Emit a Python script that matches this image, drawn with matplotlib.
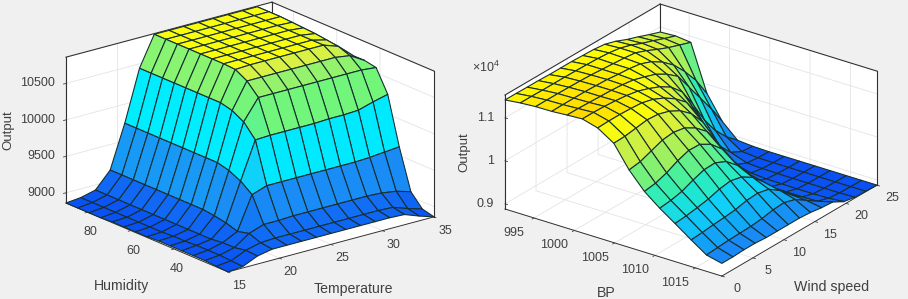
import numpy as np
import matplotlib
matplotlib.use("Agg")
import matplotlib.pyplot as plt
from matplotlib.colors import LinearSegmentedColormap, Normalize
from matplotlib.transforms import Affine2D
from mpl_toolkits.mplot3d import proj3d

plt.rcParams['font.family'] = ['Liberation Sans', 'DejaVu Sans']
plt.rcParams['mathtext.fontset'] = 'custom'
plt.rcParams['mathtext.rm'] = 'Liberation Sans'
plt.rcParams['mathtext.default'] = 'regular'

W, H = 908, 299
BG = '#f0f0f0'

# ---- data: left panel (rows: humidity low->high; columns: temperature 15->35)
temperature = [15, 16.43, 17.86, 19.29, 20.71, 22.14, 23.57, 25, 26.43, 27.86, 29.29, 30.71, 32.14, 33.57, 35]
humidity = [15, 20.4, 25.7, 31.1, 36.4, 41.8, 47.1, 52.5, 57.9, 63.2, 68.6, 73.9, 79.3, 84.6, 90]
output_left = [
    [8860, 8880, 8970, 9010, 9010, 9010, 9010, 9010, 9010, 9010, 9010, 9010, 9000, 8925, 8860],
    [8870, 8890, 8980, 9030, 9040, 9040, 9040, 9040, 9040, 9040, 9040, 9040, 9030, 8960, 8900],
    [8880, 8900, 8950, 9090, 9160, 9160, 9170, 9170, 9170, 9170, 9170, 9170, 9160, 9130, 9070],
    [8880, 8900, 8950, 9050, 9500, 9570, 9570, 9570, 9570, 9570, 9570, 9570, 9580, 9600, 9620],
    [8880, 8900, 8930, 9100, 9620, 10130, 10140, 10140, 10140, 10140, 10150, 10150, 10160, 10220, 10270],
    [8880, 8890, 8930, 9130, 9700, 10310, 10590, 10590, 10590, 10590, 10590, 10590, 10590, 10590, 10570],
    [8880, 8890, 8930, 9150, 9740, 10400, 10750, 10750, 10750, 10750, 10750, 10750, 10750, 10720, 10600],
    [8870, 8880, 8930, 9150, 9740, 10440, 10840, 10850, 10850, 10850, 10850, 10850, 10850, 10780, 10600],
    [8870, 8880, 8930, 9150, 9740, 10440, 10850, 10850, 10850, 10850, 10850, 10850, 10850, 10800, 10600],
    [8870, 8880, 8930, 9150, 9740, 10440, 10850, 10850, 10850, 10850, 10850, 10850, 10850, 10820, 10600],
    [8870, 8880, 8930, 9150, 9740, 10440, 10850, 10850, 10850, 10850, 10850, 10850, 10850, 10830, 10600],
    [8860, 8880, 8930, 9150, 9740, 10440, 10850, 10850, 10850, 10850, 10850, 10850, 10850, 10840, 10600],
    [8860, 8880, 8930, 9150, 9740, 10440, 10850, 10850, 10850, 10850, 10850, 10850, 10850, 10850, 10600],
    [8860, 8880, 8930, 9150, 9740, 10440, 10850, 10850, 10850, 10850, 10850, 10850, 10850, 10850, 10600],
    [8860, 8880, 8930, 9150, 9740, 10440, 10850, 10850, 10850, 10850, 10850, 10850, 10850, 10850, 10600],
]
temp_ticks = [15, 20, 25, 30, 35]
hum_ticks = [40, 60, 80]
left_z_ticks = [9000, 9500, 10000, 10500]
left_z_labels = ['9000', '9500', '10000', '10500']

# ---- data: right panel (rows: BP low->high; columns: wind speed 0->25)
bp = [991.4, 993.3, 995.2, 997.2, 999.1, 1001.0, 1002.9, 1004.9, 1006.8, 1008.7, 1010.6, 1012.5, 1014.5, 1016.4, 1018.3]
wind = [0, 1.79, 3.57, 5.36, 7.14, 8.93, 10.71, 12.5, 14.29, 16.07, 17.86, 19.64, 21.43, 23.21, 25]
output_right = [
    [11415, 11415, 11410, 11410, 11400, 11400, 11400, 11390, 11380, 11350, 11270, 11160, 11070, 10970, 10880],
    [11455, 11455, 11450, 11450, 11450, 11445, 11440, 11430, 11410, 11370, 11290, 11180, 11090, 10990, 10900],
    [11480, 11480, 11480, 11475, 11470, 11460, 11440, 11420, 11400, 11370, 11270, 11150, 11040, 10950, 10860],
    [11485, 11490, 11490, 11490, 11480, 11470, 11440, 11420, 11380, 11280, 11120, 10900, 10600, 10250, 9790],
    [11510, 11510, 11500, 11490, 11480, 11460, 11420, 11340, 11250, 11100, 10900, 10500, 10100, 9700, 9250],
    [11530, 11530, 11520, 11500, 11470, 11420, 11330, 11220, 11060, 10800, 10350, 9850, 9450, 9150, 8920],
    [11430, 11440, 11440, 11430, 11410, 11340, 11220, 11050, 10820, 10400, 9800, 9350, 9050, 8920, 8890],
    [11190, 11200, 11240, 11280, 11260, 11180, 11040, 10820, 10480, 9950, 9350, 9030, 8920, 8890, 8880],
    [10680, 10720, 10820, 10920, 10950, 10900, 10750, 10520, 10100, 9500, 9100, 8950, 8900, 8885, 8880],
    [10290, 10330, 10420, 10550, 10640, 10630, 10480, 10220, 9800, 9300, 9030, 8920, 8895, 8885, 8880],
    [10010, 10040, 10100, 10210, 10300, 10310, 10190, 9950, 9600, 9230, 9000, 8915, 8890, 8885, 8880],
    [9765, 9790, 9830, 9880, 9960, 10000, 9940, 9780, 9520, 9210, 8990, 8910, 8890, 8885, 8880],
    [9500, 9520, 9550, 9570, 9600, 9660, 9680, 9620, 9440, 9190, 8990, 8910, 8890, 8885, 8880],
    [9260, 9280, 9300, 9310, 9320, 9350, 9400, 9420, 9340, 9170, 9000, 8920, 8890, 8885, 8880],
    [9175, 9175, 9190, 9190, 9170, 9170, 9170, 9170, 9150, 9110, 9090, 8950, 8900, 8890, 8880],
]
bp_ticks = [995, 1000, 1005, 1010, 1015]
wind_ticks = [0, 5, 10, 15, 20, 25]
right_z_ticks = [9000, 10000, 11000]
right_z_labels = ['0.9', '1', '1.1']

cmap_left = LinearSegmentedColormap.from_list('left', [
    (0.0, '#0a50f5'), (0.09, '#1068f5'), (0.27, '#1a90f5'), (0.42, '#0fd0fa'), (0.47, '#00e8ff'),
    (0.63, '#00ecff'), (0.73, '#70f57a'), (0.88, '#78f578'), (0.93, '#b0f060'), (0.98, '#e0f040'),
    (1.0, '#ffff00')])
cmap_right = LinearSegmentedColormap.from_list('right', [
    (0.0, '#0a50f5'), (0.11, '#1a80f5'), (0.23, '#10b0f8'), (0.33, '#10d0f8'),
    (0.43, '#20e8d0'), (0.53, '#40f0a0'), (0.68, '#a0f060'), (0.87, '#e8f030'),
    (0.95, '#ffff00'), (1.0, '#ffd800')])

fig = plt.figure(figsize=(W / 100, H / 100), dpi=100, facecolor=BG)


def shift_tick_labels(ax, axis, dx, dy, ha='center'):
    """Place an axis' tick labels dx, dy pixels from their tick (dy measured downwards)."""
    orig = axis.get_major_ticks
    def patched(numticks=None):
        ticks = orig(numticks)
        for t in ticks:
            t.label1.set_transform(ax.transData + Affine2D().translate(dx, -dy))
            t.label1.set_ha(ha)
            t.label1.set_va('center')
        return ticks
    axis.get_major_ticks = patched


def panel(X, Y, Z, lims, view, aspect, cmap, ticks, ztl, frame, anchor):
    ax = fig.add_axes([0.1, 0.1, 0.5, 0.5], projection='3d', proj_type='ortho', computed_zorder=False)
    ax.patch.set_alpha(0)
    ax.view_init(elev=view[0], azim=view[1], roll=0)
    xlim, ylim, zlim = lims
    ax.set_xlim(*xlim); ax.set_ylim(*ylim); ax.set_zlim(*zlim)
    ax.set_box_aspect(aspect, zoom=1.0)
    surf = ax.plot_surface(X, Y, Z, rstride=1, cstride=1, cmap=cmap, norm=Normalize(zlim[0], zlim[1]),
                           edgecolor='#163030', linewidth=0.8, shade=False, antialiased=True, zorder=3)
    surf.set_clip_on(False)
    ax.set_xticks(ticks[0]); ax.set_yticks(ticks[1]); ax.set_zticks(ticks[2])
    ax.set_zticklabels(ztl)
    for a in (ax.xaxis, ax.yaxis, ax.zaxis):
        a.set_pane_color((1, 1, 1, 1))
        a.pane.set_edgecolor('white')
        a.pane.set_clip_on(False)
        a._axinfo['grid'].update(color='#e4e4e4', linewidth=0.6)
        a._axinfo['tick'].update(inward_factor=0.15, outward_factor=0.0, linewidth={True: 0.6, False: 0.4})
        a.line.set_color('#303030')
        a.line.set_linewidth(0.7)
    ax.tick_params(axis='both', labelsize=9, labelcolor='#404040', colors='#404040', pad=-8)
    ax.tick_params(axis='z', labelsize=9, labelcolor='#404040', colors='#404040', pad=-8)

    for seg in frame:
        line, = ax.plot(*seg, color='#303030', lw=0.8, zorder=1)
        line.set_clip_on(False)

    def px(pt):
        ax.apply_aspect()
        a, b, _ = proj3d.proj_transform(pt[0], pt[1], pt[2], ax.get_proj())
        d = ax.transData.transform((a, b))
        return d[0], H - d[1]
    p0 = px(anchor['a_data']); p1 = px(anchor['b_data'])
    s = (anchor['b_px'][0] - anchor['a_px'][0]) / (p1[0] - p0[0])
    ax.set_box_aspect(aspect, zoom=s)
    p0 = px(anchor['a_data'])
    dx = (anchor['a_px'][0] - p0[0]) / W
    dy = -(anchor['a_px'][1] - p0[1]) / H
    pos = ax.get_position(original=True)
    ax.set_position([pos.x0 + dx, pos.y0 + dy, pos.width, pos.height])
    return ax


# Left panel
lims_l = ((15, 35), (15, 90), (8860, 10860))
frame_l = [
    ([15, 15], [90, 90], [8860, 10860]),
    ([35, 35], [15, 15], [8860, 10860]),
    ([35, 35], [90, 90], [8860, 10860]),
    ([15, 35], [90, 90], [10860, 10860]),
    ([35, 35], [15, 90], [10860, 10860]),
]
X1, Y1 = np.meshgrid(temperature, humidity)
ax1 = panel(X1, Y1, np.array(output_left, float), lims_l, (19.7, -128.4), (263, 261, 155), cmap_left,
            (temp_ticks, hum_ticks, left_z_ticks), left_z_labels, frame_l,
            dict(a_data=(15, 90, 8860), b_data=(35, 15, 8860), a_px=(66, 203), b_px=(434, 217)))
shift_tick_labels(ax1, ax1.xaxis, 11, 14)
shift_tick_labels(ax1, ax1.yaxis, 3, 20)
shift_tick_labels(ax1, ax1.zaxis, -11, 0, ha='right')

# Right panel
lims_r = ((991.4, 1018.3), (0, 25), (8880, 11530))
frame_r = [
    ([991.4, 991.4], [0, 0], [8880, 11530]),
    ([1018.3, 1018.3], [25, 25], [8880, 11530]),
    ([991.4, 991.4], [25, 25], [8880, 11530]),
    ([991.4, 991.4], [0, 25], [11530, 11530]),
    ([991.4, 1018.3], [25, 25], [11530, 11530]),
]
X2, Y2 = np.meshgrid(bp, wind, indexing='ij')
ax2 = panel(X2, Y2, np.array(output_right, float), lims_r, (25.2, -54.0), (268, 264, 126), cmap_right,
            (bp_ticks, wind_ticks, right_z_ticks), right_z_labels, frame_r,
            dict(a_data=(991.4, 0, 8880), b_data=(1018.3, 25, 8880), a_px=(505, 209), b_px=(877, 185)))
ax2.zaxis._axinfo['juggled'] = (1, 2, 0)
shift_tick_labels(ax2, ax2.xaxis, -20, 15)
shift_tick_labels(ax2, ax2.yaxis, 15, 13)
shift_tick_labels(ax2, ax2.zaxis, -11, 0, ha='right')


def label(ax, x, y, s, rot=0, size=10.2):
    ax.text2D(x / W, 1 - y / H, s, transform=fig.transFigure, fontsize=size, color='#404040',
              ha='center', va='center', rotation=rot)

label(ax1, 122, 286, 'Humidity')
label(ax1, 353, 289, 'Temperature')
label(ax1, 8, 130, 'Output', rot=90, size=9.5)
label(ax2, 606, 293, 'BP')
label(ax2, 832, 287, 'Wind speed')
label(ax2, 464, 152, 'Output', rot=90, size=9.5)
label(ax2, 486, 67, r'$\times 10^{4}$', size=9)

fig.savefig('out.png', dpi=100, facecolor=BG)
